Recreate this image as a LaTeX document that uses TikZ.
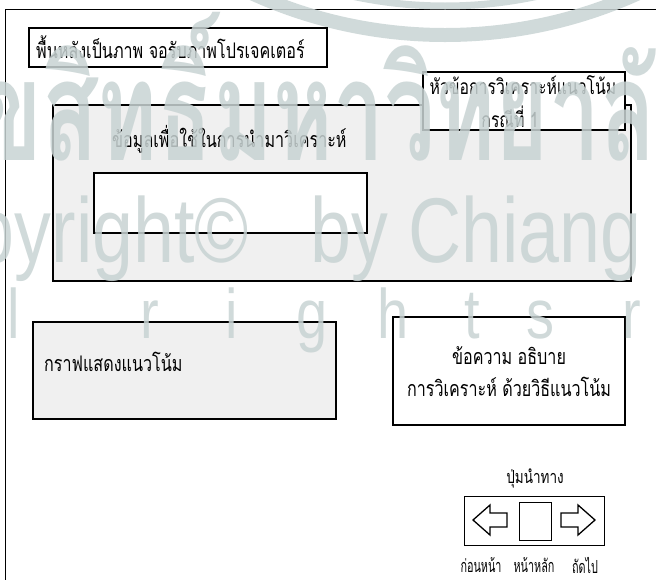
\documentclass[tikz,border=0pt]{standalone}
\usepackage{fontspec}
\newfontfamily\thaifont[Script=Thai,FakeStretch=0.75]{Loma}
\newfontfamily\navfont[Script=Thai,FakeStretch=0.6]{Loma}
\newfontfamily\wmthai[Script=Thai,FakeStretch=0.65]{Loma}
\newfontfamily\wmlatin[FakeStretch=0.8]{Liberation Sans}
\definecolor{wmcol}{HTML}{C8D3D3}
\definecolor{boxgray}{HTML}{F0F0F0}
\begin{document}
\begin{tikzpicture}[x=1pt,y=-1pt,
  box/.style={draw=black, line width=1.6pt, fill=white, inner sep=0pt},
  graybox/.style={box, fill=boxgray},
  thin box/.style={draw=black, line width=1.3pt, inner sep=0pt},
  lbl/.style={font=\thaifont\fontsize{21.5}{24}\selectfont, inner sep=0pt},
  title lbl/.style={font=\thaifont\fontsize{21}{24}\selectfont, inner sep=0pt},
  small lbl/.style={font=\thaifont\fontsize{18}{20}\selectfont, inner sep=0pt},
  nav lbl/.style={font=\navfont\fontsize{18}{20}\selectfont, inner sep=0pt},
  wm/.style={text=wmcol, text opacity=0.85, inner sep=0pt},
  arr/.style={draw=black, line width=1.3pt, line join=miter},
]
\useasboundingbox (0,0) rectangle (656,579);
\clip (0,0) rectangle (656,579);
% outer frame
\draw[line width=1pt] (5,9) rectangle (662,590);
% top logo ring (watermark)
\draw[wmcol, line width=14pt, opacity=0.85] (445,-432) circle[radius=467];
\draw[wmcol, line width=7pt, opacity=0.85] (445,-432) circle[radius=438];

\node[box, anchor=north west, minimum width=298, minimum height=39] (bg) at (28,27) {};
\node[lbl, anchor=west] (bgt) at (36,47) {พื้นหลังเป็นภาพ จอรับภาพโปรเจคเตอร์};

\node[graybox, anchor=north west, minimum width=578, minimum height=176] (data) at (52,104) {};
\node[box, anchor=north west, minimum width=202, minimum height=58] (title) at (422,71) {};
\node[title lbl] (title1) at (523,85) {หัวข้อการวิเคราะห์แนวโน้ม};
\node[title lbl] (title2) at (510,117) {กรณีที่ 1};

\node[lbl, anchor=west] (datat) at (112,139) {ข้อมูลเพื่อใช้ในการนำมาวิเคราะห์};
\node[box, anchor=north west, minimum width=273, minimum height=60] (inner) at (93,172) {};

\node[graybox, anchor=north west, minimum width=303, minimum height=97] (graph) at (32,321) {};
\node[lbl, anchor=west] (grapht) at (44,362) {กราฟแสดงแนวโน้ม};

\node[box, anchor=north west, minimum width=232, minimum height=108] (expl) at (392,316) {};
\node[lbl] (expl1) at (509,356) {ข้อความ อธิบาย};
\node[lbl] (expl2) at (509,387) {การวิเคราะห์ ด้วยวิธีแนวโน้ม};

\node[small lbl] (navt) at (535,479) {ปุ่มนำทาง};
\node[thin box, anchor=north west, minimum width=140, minimum height=49] (nav) at (464,496) {};
\node[thin box, anchor=north west, minimum width=32, minimum height=38] (home) at (519,502) {};
\draw[arr] (473,520) -- (490,505) -- (490,513) -- (507,513) -- (507,527) -- (490,527) -- (490,535) -- cycle;
\draw[arr] (595,520) -- (578,505) -- (578,513) -- (561,513) -- (561,527) -- (578,527) -- (578,535) -- cycle;
\node[nav lbl] (prev) at (481,565) {ก่อนหน้า};
\node[nav lbl] (homet) at (534,565) {หน้าหลัก};
\node[nav lbl] (next) at (585,565) {ถัดไป};

% watermark
\node[wm, font=\wmthai\bfseries\fontsize{140}{140}\selectfont, anchor=base west] (wm1) at (-20,160) {ขสิทธิ์มหาวิทยาลัยเชียงใหม่};
\node[wm, font=\wmlatin\fontsize{92}{92}\selectfont, anchor=base east] (wm2) at (642,262) {Copyright©\ \ \ by Chiang};
\foreach \ch/\xx [count=\i] in {l/14,r/150,i/232,g/312,h/393,t/472,s/540,r/632}
  \node[wm, font=\wmlatin\fontsize{70}{70}\selectfont, anchor=base] (wm3\i) at (\xx,338) {\ch};
\end{tikzpicture}
\end{document}
